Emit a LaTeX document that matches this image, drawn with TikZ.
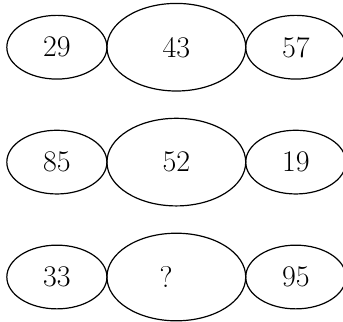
\documentclass[tikz,border=0pt]{standalone}
\usetikzlibrary{shapes.geometric}
\begin{document}
\begin{tikzpicture}[
    num/.style   = {font=\fontsize{15}{18}\selectfont},
    small/.style = {draw, semithick, ellipse, inner sep=0pt, num,
                    minimum width=1.76cm, minimum height=1.12cm},
    big/.style   = {draw, semithick, ellipse, inner sep=0pt, num,
                    minimum width=2.44cm, minimum height=1.54cm}]
    \useasboundingbox (0,0.83) rectangle (6.03,-4.83);

    % first row
    \node[small] (a1) at (1.0,0) {29};
    \node[big]   (b1) at (3.1,0) {43};
    \node[small] (c1) at (5.2,0) {57};

    % second row
    \node[small] (a2) at (1.0,-2.02) {85};
    \node[big]   (b2) at (3.1,-2.02) {52};
    \node[small] (c2) at (5.2,-2.02) {19};

    % third row
    \node[small] (a3) at (1.0,-4.04) {33};
    \node[big]   (b3) at (3.1,-4.04) {};
    \node[num]   (q)  at (2.92,-4.04) {?};
    \node[small] (c3) at (5.2,-4.04) {95};
\end{tikzpicture}
\end{document}
